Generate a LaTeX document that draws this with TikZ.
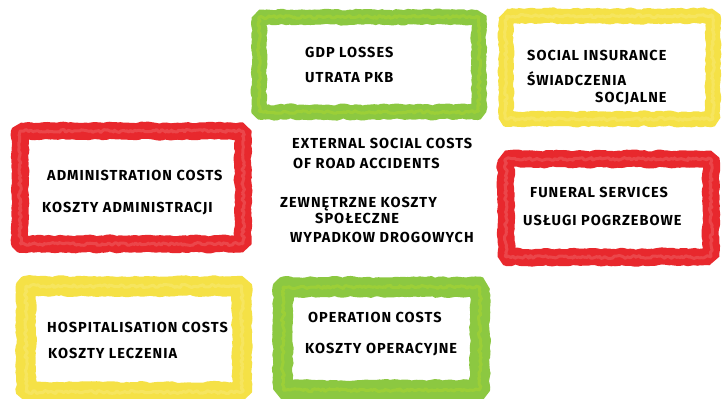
\documentclass[tikz,border=0pt]{standalone}
\usepackage{fontspec}
\setmainfont[LetterSpace=7]{Fira Sans}
\usetikzlibrary{decorations.pathmorphing}
\definecolor{cgreen}{RGB}{140,200,65}
\definecolor{cyellow}{RGB}{245,225,70}
\definecolor{cred}{RGB}{232,40,45}
\tikzset{
  crayon/.style={draw=#1, line join=bevel, decorate,
    decoration={random steps, segment length=3pt, amplitude=1.1pt}},
  grain/.style={draw=#1, line width=3pt, line join=bevel, opacity=0.35, decorate,
    decoration={random steps, segment length=2pt, amplitude=1.5pt}},
  lbl/.style={anchor=base west, inner sep=0pt, font=\fontsize{14.5}{16}\selectfont\bfseries},
}
\begin{document}
\begin{tikzpicture}[x=1pt,y=-1pt]
\pgfmathsetseed{7}
\useasboundingbox[fill=white] (0,0) rectangle (724,399);
% boxes
\draw[crayon=cgreen, line width=15pt] (259,17) rectangle (479,112);
\draw[crayon=cyellow, line width=15pt] (506,16) rectangle (713,119);
\draw[crayon=cred, line width=17pt] (20,131) rectangle (243,244);
\draw[crayon=cred, line width=17pt] (506,159) rectangle (711,257);
\draw[crayon=cyellow, line width=20pt] (26,286) rectangle (242,392);
\draw[crayon=cgreen, line width=20pt] (283,287) rectangle (480,390);
% texture
\draw[grain=cgreen!60!yellow] (259,17) rectangle (479,112);
\draw[grain=cyellow!60!white] (506,16) rectangle (713,119);
\draw[grain=cred!60!white] (20,131) rectangle (243,244);
\draw[grain=cred!60!white] (506,159) rectangle (711,257);
\draw[grain=cyellow!60!white] (26,286) rectangle (242,392);
\draw[grain=cgreen!60!yellow] (283,287) rectangle (480,390);
% texts
\node[lbl] (gdp1) at (305,57) {GDP LOSSES};
\node[lbl] (gdp2) at (305,82) {UTRATA PKB};
\node[lbl] (soc1) at (527,60) {SOCIAL INSURANCE};
\node[lbl] (soc2) at (527,85) {ŚWIADCZENIA};
\node[lbl] (soc3) at (595,102) {SOCJALNE};
\node[lbl] (adm1) at (47,180) {ADMINISTRATION COSTS};
\node[lbl] (adm2) at (42,212) {KOSZTY ADMINISTRACJI};
\node[lbl] (ext1) at (292,148) {EXTERNAL SOCIAL COSTS};
\node[lbl] (ext2) at (293,168) {OF ROAD ACCIDENTS};
\node[lbl] (ext3) at (280,207) {ZEWNĘTRZNE KOSZTY};
\node[lbl] (ext4) at (315,223) {SPOŁECZNE};
\node[lbl] (ext5) at (290,242) {WYPADKOW DROGOWYCH};
\node[lbl] (fun1) at (530,197) {FUNERAL SERVICES};
\node[lbl] (fun2) at (523,225) {USŁUGI POGRZEBOWE};
\node[lbl] (hos1) at (47,332) {HOSPITALISATION COSTS};
\node[lbl] (hos2) at (48,358) {KOSZTY LECZENIA};
\node[lbl] (op1) at (308,322) {OPERATION COSTS};
\node[lbl] (op2) at (305,353) {KOSZTY OPERACYJNE};
\end{tikzpicture}
\end{document}
